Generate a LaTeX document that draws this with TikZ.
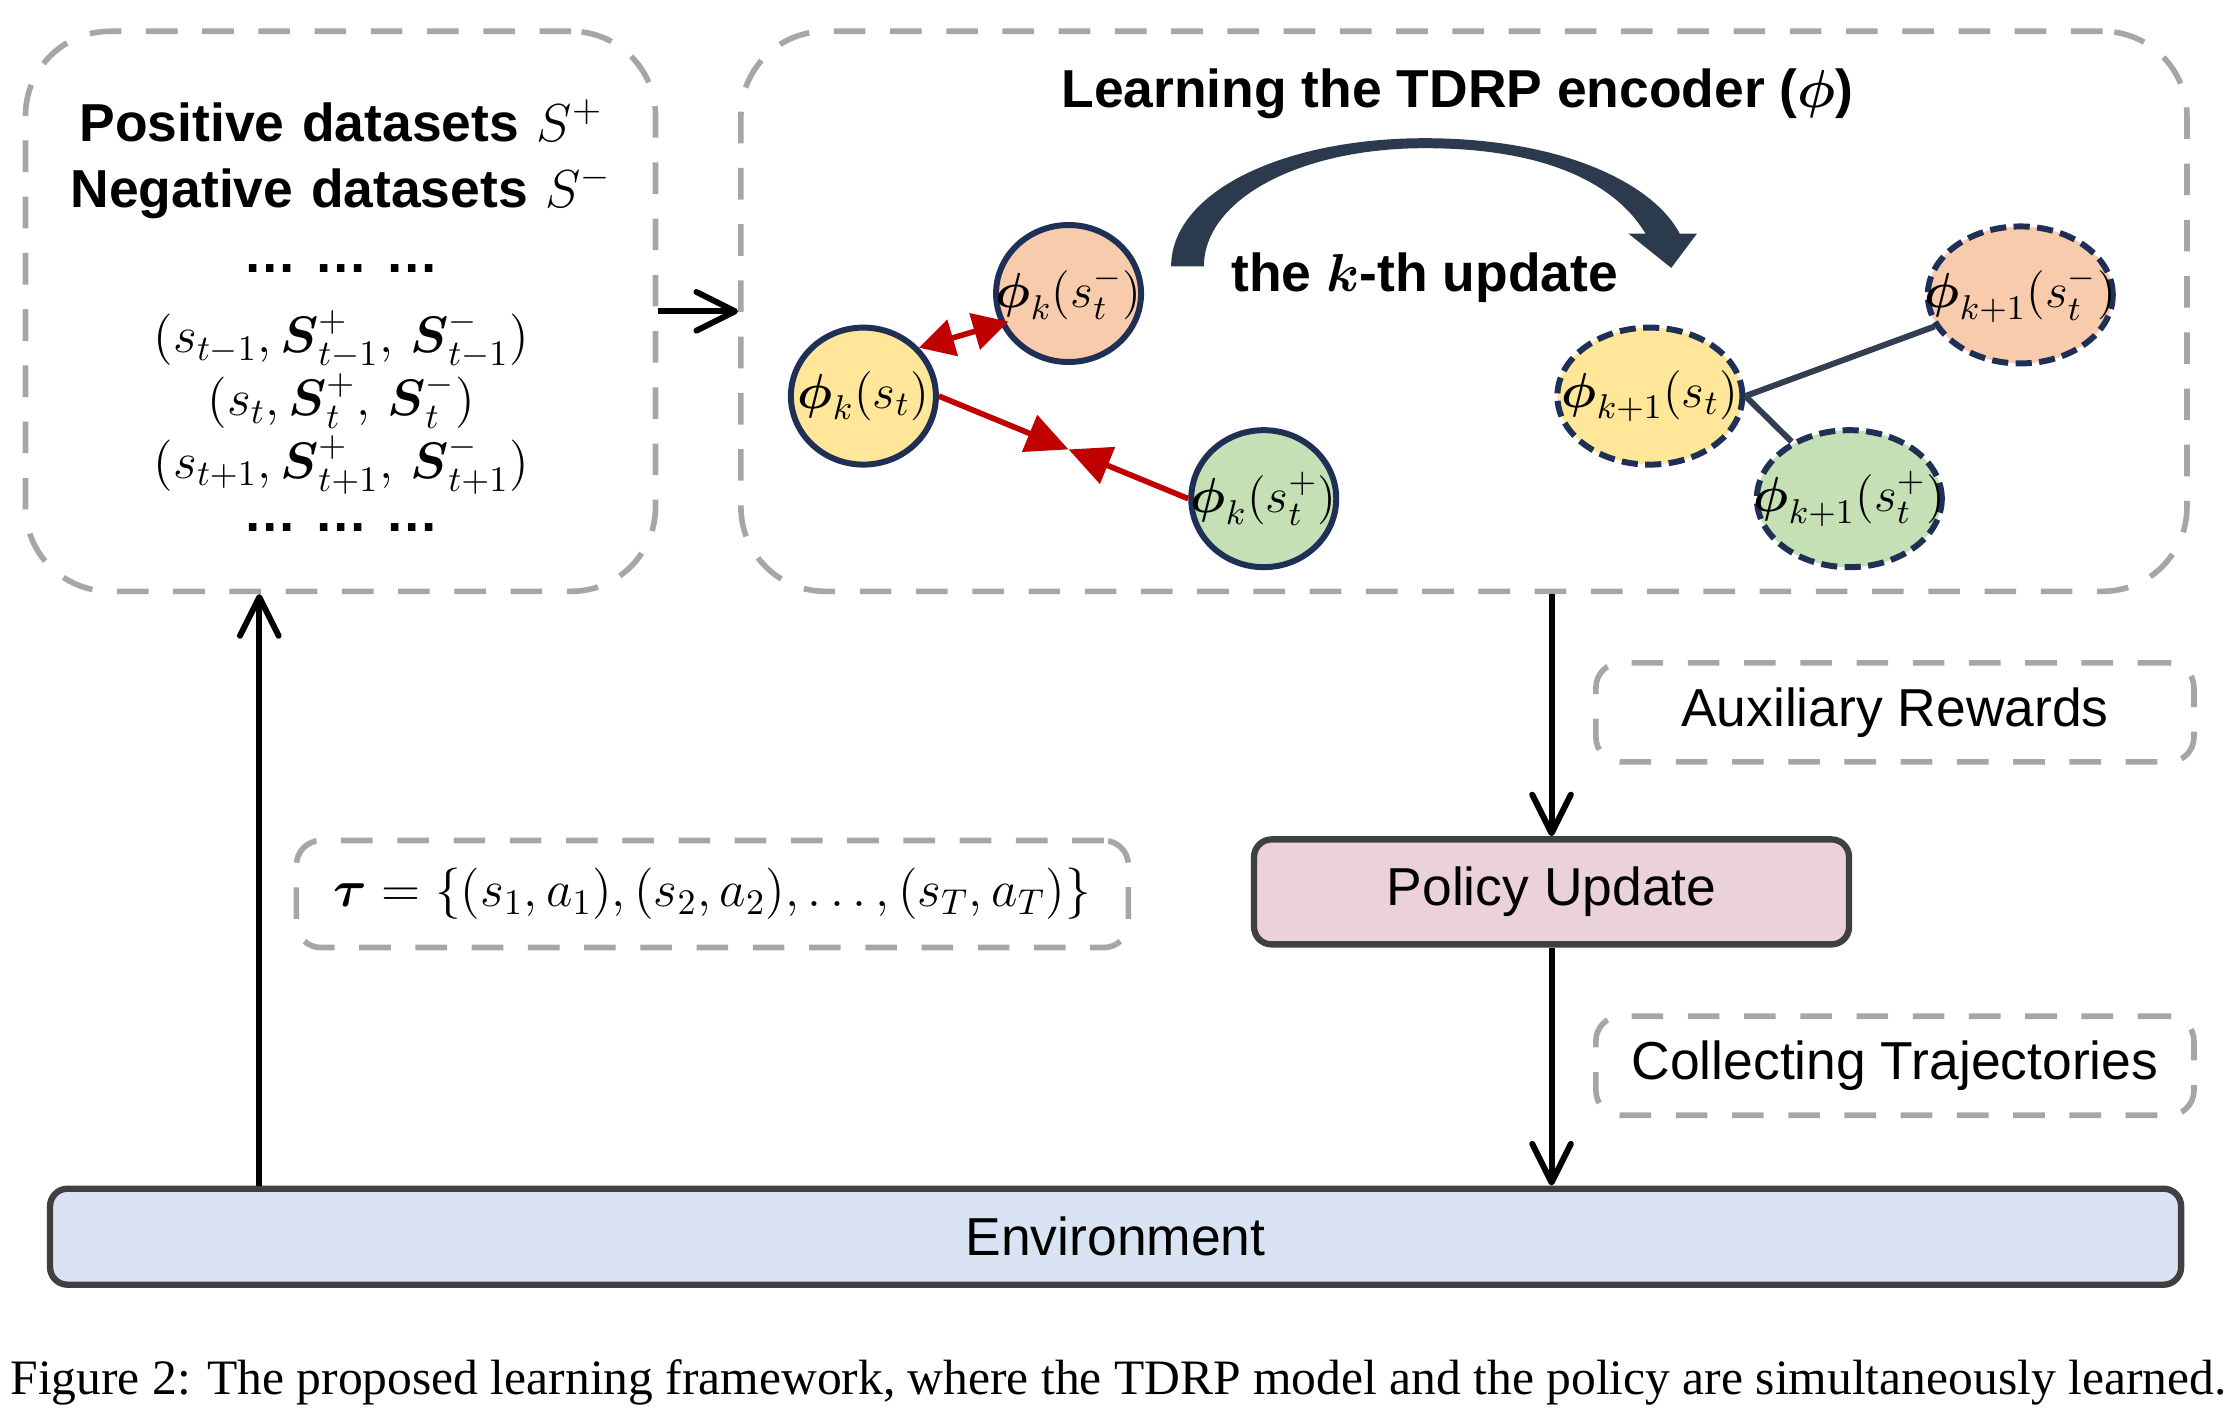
\documentclass[tikz,border=0pt]{standalone}
\usepackage{fix-cm}
\usepackage[]{amsmath}
\usepackage{fontspec}
\setmainfont{Liberation Sans}
\newfontfamily\capfont{Liberation Serif}
\usepackage{tikz}
\usetikzlibrary{positioning,shapes,arrows.meta,calc}

\definecolor{dashgray}{HTML}{A6A6A6}
\definecolor{navy}{HTML}{1F3057}
\definecolor{arrowdark}{HTML}{2C3A4D}
\definecolor{linkgray}{HTML}{333F50}
\definecolor{pullred}{HTML}{C00000}
\definecolor{boxgray}{HTML}{404040}
\definecolor{policypink}{HTML}{EAD1DC}
\definecolor{envblue}{HTML}{DAE3F3}
\definecolor{embyellow}{HTML}{FFE699}
\definecolor{embpeach}{HTML}{F8CBAD}
\definecolor{embgreen}{HTML}{C5E0B4}

\begin{document}
\begin{tikzpicture}[x=0.14247mm,y=-0.14247mm,
    every node/.style={font=\fontsize{15.2}{18}\selectfont},
    bold/.style={font=\fontsize{15.2}{17.85}\selectfont\bfseries},
    dashbox/.style={draw=dashgray,line width=1.6pt,dash pattern=on 9pt off 7pt},
    bigbox/.style={dashbox,rounded corners=24pt,minimum height=56mm},
    tagbox/.style={dashbox,rounded corners=7pt,minimum width=59.8mm,minimum height=9.9mm},
    emb/.style={ellipse,draw=navy,line width=1.7pt,inner sep=0pt,minimum width=14.5mm,minimum height=13.7mm,font=\fontsize{14}{16}\selectfont},
    newemb/.style={emb,dash pattern=on 4.6pt off 2.1pt,minimum width=18.5mm},
    solidbox/.style={draw=boxgray,line width=1.8pt,rounded corners=5pt},
    arr/.style={line width=1.7pt,-{Straight Barb[length=11pt,width=11pt,round]}},
    pull/.style={draw=pullred,line width=1.6pt},
    link/.style={draw=linkgray,line width=1.7pt}]

\useasboundingbox (0,0) rectangle (1568,994);

% left box: the datasets
\node[bigbox,minimum width=63mm] (lbox) at (239,218.5) {};
\node[bold,text width=62mm,align=center,anchor=base] (sets) at (239.5,99) {\lineskiplimit=-\maxdimen
    Positive datasets $S^{+}$\\[1pt]
    Negative datasets $S^{-}$\\[0.6pt]
    … … …\\[5.1pt]
    {\fontsize{14.6}{17.85}\selectfont$(s_{t-1},\boldsymbol{S}^{+}_{t-1},\,\boldsymbol{S}^{-}_{t-1})$}\\
    {\fontsize{14.6}{17.85}\selectfont$(s_{t},\boldsymbol{S}^{+}_{t},\,\boldsymbol{S}^{-}_{t})$}\\
    {\fontsize{14.6}{17.85}\selectfont$(s_{t+1},\boldsymbol{S}^{+}_{t+1},\,\boldsymbol{S}^{-}_{t+1})$}\\[-2.6pt]
    … … …};

% right box: the encoder
\node[bigbox,minimum width=144.6mm] (rbox) at (1027.5,218.5) {};
\node[bold] (title) at (1023,66) {Learning the TDRP encoder ($\boldsymbol{\phi}$)};
\node[bold] (update) at (1000,195) {the $\boldsymbol{k}$-th update};

\fill[arrowdark] (822,187) .. controls (822,135) and (900,97) .. (1000,97)
    .. controls (1095,97) and (1160,128) .. (1179,164) -- (1191,164) -- (1173,188)
    -- (1143,164) -- (1155,164) .. controls (1132,126) and (1080,104) .. (1000,104)
    .. controls (912,104) and (845,140) .. (845,187) -- cycle;

\node[emb,fill=embpeach] (kstm) at (750,206) {\makebox[0pt]{$\boldsymbol{\phi}_{k}(s_t^{-})$}};
\node[emb,fill=embyellow] (kst) at (606,278) {\makebox[0pt]{$\boldsymbol{\phi}_{k}(s_t)$}};
\node[emb,fill=embgreen] (kstp) at (887,350) {\makebox[0pt]{$\boldsymbol{\phi}_{k}(s_t^{+})$}};

\draw[pull,shorten >=-2.4pt,{Triangle[length=10pt,width=10.5pt]}-{Triangle[length=10pt,width=10.5pt]}] (kst.41) -- (kstm.204);
\coordinate (meet) at ($(kst.east)!0.52!(kstp.west)$);
\draw[pull,-{Triangle[length=12pt,width=11pt]}] (kst.east) -- (meet);
\draw[pull,-{Triangle[length=12pt,width=11pt]}] (kstp.west) -- (meet);

\node[newemb,fill=embpeach] (ksm1) at (1418,207) {\makebox[0pt]{$\boldsymbol{\phi}_{k+1}(s_t^{-})$}};
\node[newemb,fill=embyellow] (ks1) at (1158,278) {\makebox[0pt]{$\boldsymbol{\phi}_{k+1}(s_t)$}};
\node[newemb,fill=embgreen] (ksp1) at (1298,350) {\makebox[0pt]{$\boldsymbol{\phi}_{k+1}(s_t^{+})$}};

\draw[link] (ks1.east) -- (ksm1);
\draw[link] (ks1.east) -- (ksp1);

% policy loop
\node[solidbox,fill=policypink,minimum width=59.5mm,minimum height=10.5mm] (policy) at (1089,626) {Policy Update};
\node[solidbox,fill=envblue,minimum width=213.1mm,minimum height=9.6mm] (env) at (783,868) {Environment};
\node[tagbox] (aux) at (1330,500) {Auxiliary Rewards};
\node[tagbox] (collect) at (1330,748) {Collecting Trajectories};
\node[dashbox,rounded corners=7pt,minimum width=83.2mm,minimum height=10.7mm] (traj) at (500,627.5) {\fontsize{14.6}{18}\selectfont$\boldsymbol{\tau}=\{(s_1,a_1),(s_2,a_2),\ldots,(s_T,a_T)\}$};

\coordinate (upx) at (182,0);
\draw[arr] (lbox.east) -- (rbox.west);
\draw[arr] (policy.north |- rbox.south) -- (policy.north);
\draw[arr] (policy.south) -- (policy.south |- env.north);
\draw[arr] (env.north -| upx) -- (lbox.south -| upx);

\node[font=\capfont\fontsize{14.1}{17}\selectfont] (caption) at (785,970) {Figure 2: The proposed learning framework, where the TDRP model and the policy are simultaneously learned.};
\end{tikzpicture}
\end{document}
